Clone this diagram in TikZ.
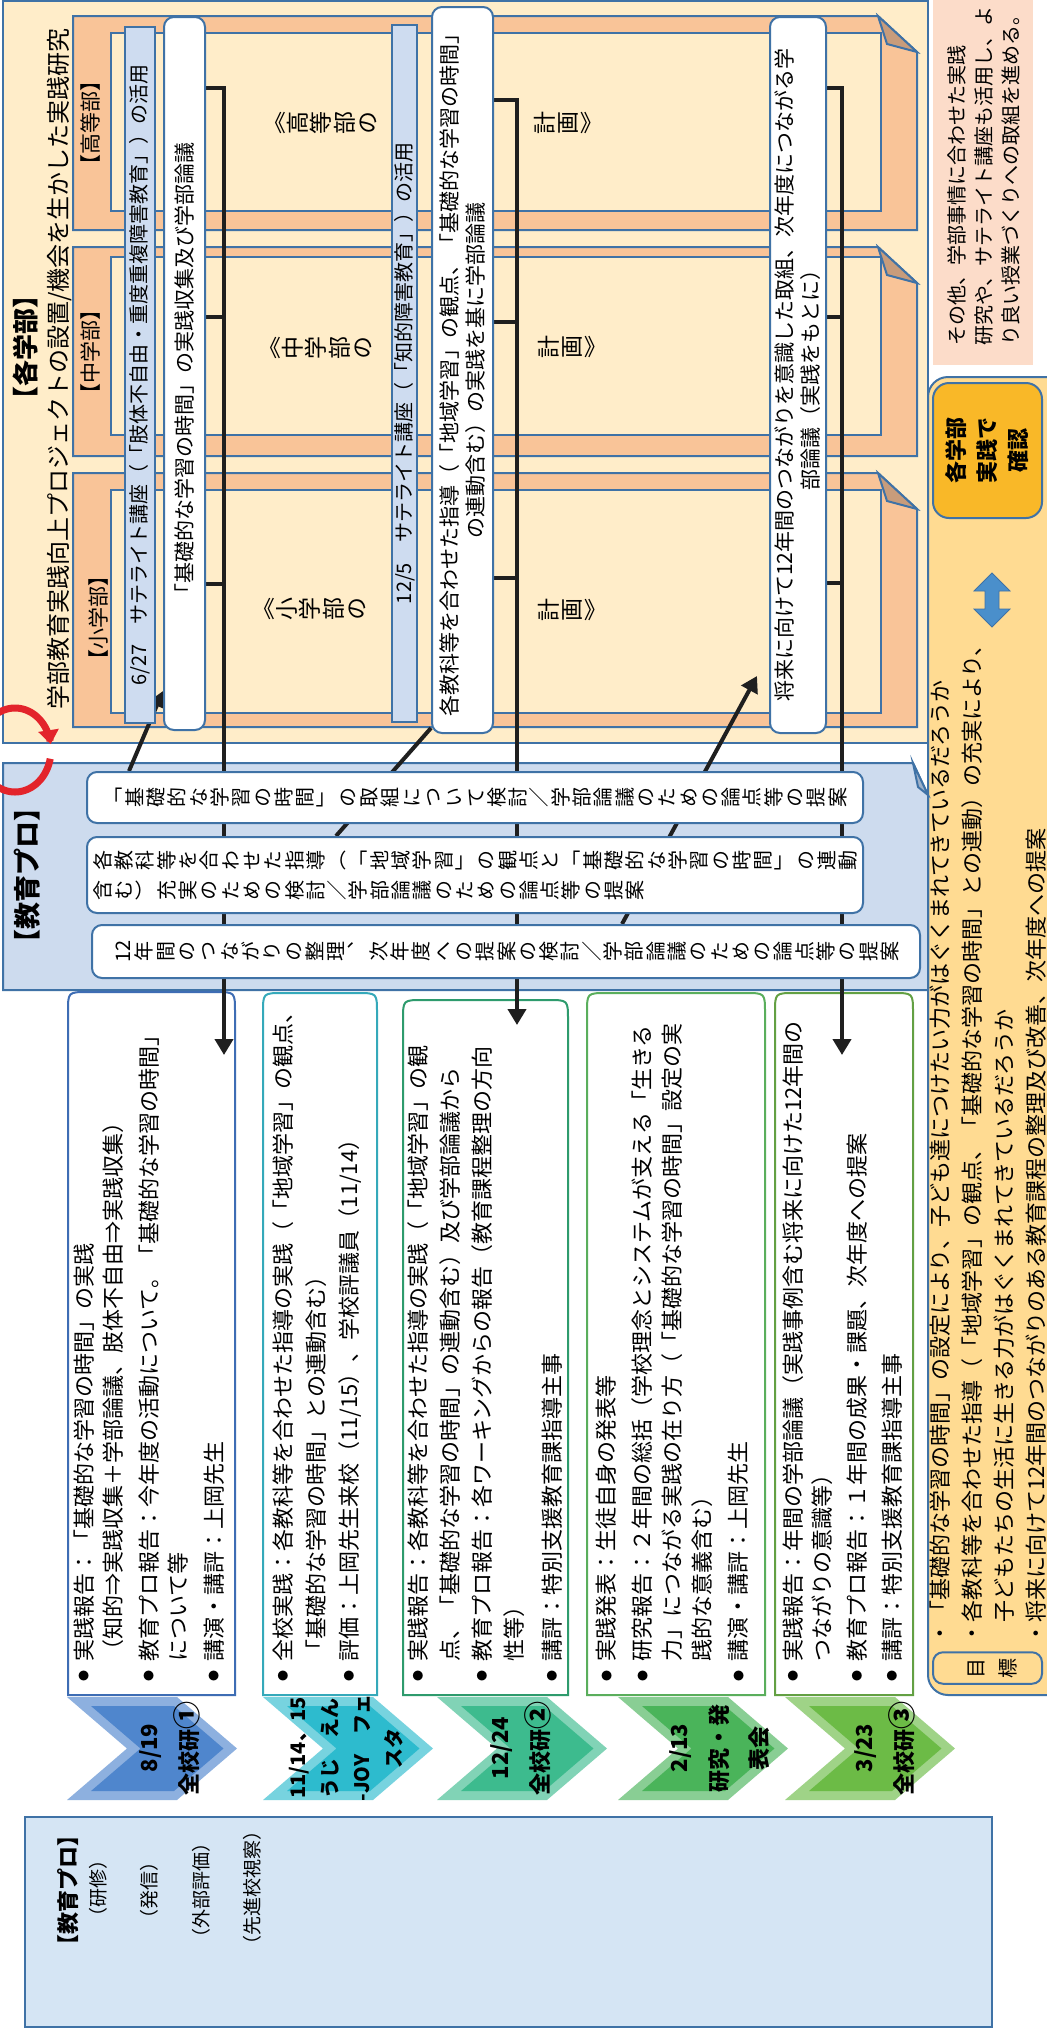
\documentclass[tikz,border=0pt]{standalone}
\usepackage{fontspec}
\setmainfont{Noto Sans CJK JP}
\newfontfamily\tatefont{Noto Sans CJK JP}[RawFeature=+vert]
\usetikzlibrary{arrows.meta}
\pgfdeclarelayer{back}
\pgfdeclarelayer{lines}
\pgfsetlayers{back,lines,main}

\definecolor{lineblue}{HTML}{3F72A6}
\definecolor{paleyellow}{HTML}{FFEDC9}
\definecolor{deptorange}{HTML}{F9C498}
\definecolor{foldbrown}{HTML}{C89C7B}
\definecolor{barblue}{HTML}{CEDCF0}
\definecolor{problue}{HTML}{CDDBEE}
\definecolor{foldgray}{HTML}{9FB1C8}
\definecolor{goalorange}{HTML}{FFDB92}
\definecolor{checkorange}{HTML}{F9B828}
\definecolor{notepink}{HTML}{FCDCC9}
\definecolor{arrowblue}{HTML}{4A8FCB}
\definecolor{bottomblue}{HTML}{D5E5F4}
\definecolor{cyclered}{HTML}{E3242B}
\definecolor{edgeA}{HTML}{3E6DB4}
\definecolor{edgeB}{HTML}{35A9BA}
\definecolor{edgeC}{HTML}{2E9B6D}
\definecolor{edgeD}{HTML}{5AAE5C}
\definecolor{edgeE}{HTML}{63A043}
\definecolor{chevA}{HTML}{4F86CD}
\definecolor{chevB}{HTML}{2DBBCE}
\definecolor{chevC}{HTML}{3DBB8E}
\definecolor{chevD}{HTML}{4AB45A}
\definecolor{chevE}{HTML}{6CBB46}

\newlength\tatepitch
\makeatletter
\newcommand\tatecol[1]{\vtop{\offinterlineskip\@tfor\tatechar:=#1\do{\hbox to\tatepitch{\hss\tatechar\hss\vrule width0pt height.88\tatepitch depth.12\tatepitch}}}}
\makeatother
\newcommand\bul{\makebox[1em][l]{\hspace{1pt}\raisebox{2.1pt}{\fontsize{5.5}{5.5}\selectfont ●}}}
\newcommand\hang{\hspace*{1em}}
\newcommand\circnum[1]{{\fontsize{14}{14}\selectfont #1}}

\begin{document}
\begin{tikzpicture}[x=0.5pt,y=-0.5pt,
  panel/.style={draw=lineblue,line width=1pt},
  txt/.style={rotate=90,inner sep=0pt},
  bar/.style={rotate=90,draw=lineblue,line width=1pt,fill=barblue,inner sep=0pt,font=\fontsize{10}{12}\selectfont},
  wbox/.style={rotate=90,draw=lineblue,line width=1pt,fill=white,rounded corners=5pt,inner sep=0pt,align=center,font=\fontsize{10.5}{13}\selectfont},
  tbox/.style={rotate=90,draw=lineblue,line width=1pt,fill=white,rounded corners=5pt,inner sep=0pt,font=\tatefont\fontsize{10}{10}\selectfont\setlength\tatepitch{10.65pt}},
  tate/.style={rotate=90,inner sep=0pt,font=\tatefont\fontsize{11.5}{11.5}\selectfont\setlength\tatepitch{11.7pt}},
  list/.style={rotate=90,anchor=north west,inner sep=0pt,align=left,font=\fontsize{11}{14.5}\selectfont},
  evt/.style={rotate=90,align=center,inner sep=0pt,font=\bfseries\fontsize{11}{20}\selectfont},
  conn/.style={line width=2pt,draw=black!88,-{Triangle[width=9pt,length=8pt]}},
  stub/.style={line width=2pt,draw=black!88}]
\useasboundingbox (0,0) rectangle (1046,2029);

\begin{pgfonlayer}{back}
\fill[white] (0,0) rectangle (1046,2029);
\draw[panel,fill=paleyellow] (3,1) rectangle (928,743);
\foreach \ya/\yb/\yc/\yd in {16/230/33/211,247/456/257/435,473/727/490/713}{
  \draw[panel,fill=deptorange] (73,\ya) -- (878,\ya) -- (917,\ya+36) -- (917,\yb) -- (73,\yb) -- cycle;
  \draw[panel,fill=paleyellow] (111,\yc) rectangle (881,\yd);
  \draw[panel,fill=foldbrown] (878,\ya) -- (887,\ya+28) -- (917,\ya+36) -- cycle;
}
\fill[notepink] (933,0) rectangle (1033,365);
\draw[panel,fill=goalorange,rounded corners=10pt] (928,377) rectangle (1070,1695);
\draw[panel,fill=problue] (3,763) -- (913,763) -- (928,795) -- (928,990) -- (3,990) -- cycle;
\draw[panel,fill=foldgray] (913,763) -- (918,787) -- (928,795) -- cycle;
\foreach \l/\r/\ya/\col in {68/235/992/edgeA,263/377/993/edgeB,403/568/1000/edgeC,587/765/993/edgeD,775/913/993/edgeE}
  \draw[draw=\col,line width=1pt,fill=white] (\l,1695) -- (\l,\ya+20) .. controls (\l,\ya) .. (\l+20,\ya)
    -- (\r-20,\ya) .. controls (\r,\ya) .. (\r,\ya+20) -- (\r,1695) -- cycle;
\foreach \x/\col in {67/chevA,263/chevB,437/chevC,618/chevD,785/chevE}{
  \fill[\col!65!white] (\x,1697) -- ++(110,0) -- ++(60,51.5) -- ++(-60,51.5) -- ++(-110,0) -- ++(60,-51.5) -- cycle;
  \fill[\col] (\x+24,1706) -- ++(83,0) -- ++(49.5,42.5) -- ++(-49.5,42.5) -- ++(-83,0) -- ++(49.5,-42.5) -- cycle;
}
\draw[panel,fill=bottomblue] (25,1817) rectangle (992,2027);
\end{pgfonlayer}

\node[txt,font=\bfseries\fontsize{13}{13}\selectfont] (kakubu) at (25,347) {【各学部】};
\node[txt,font=\fontsize{12}{12}\selectfont] (project) at (60,369) {学部教育実践向上プロジェクトの設置/機会を生かした実践研究};
\node[txt,font=\fontsize{10.5}{10.5}\selectfont] (koto) at (91,123) {【高等部】};
\node[txt,font=\fontsize{10.5}{10.5}\selectfont] (chu) at (91,352) {【中学部】};
\node[txt,font=\fontsize{10.5}{10.5}\selectfont] (sho) at (99,618) {【小学部】};

\node[bar,minimum width=348pt,minimum height=15pt] (bar1) at (140,375) {6/27　サテライト講座（「肢体不自由・重度重複障害教育」）の活用};
\node[bar,minimum width=348.5pt,minimum height=12.5pt] (bar2) at (404.5,373.5) {12/5　サテライト講座（「知的障害教育」）の活用};

\node[wbox,minimum width=356.5pt,minimum height=20.5pt] (A) at (184.5,373.5) {「基礎的な学習の時間」の実践収集及び学部論議};
\node[wbox,minimum width=363pt,minimum height=30.5pt] (B) at (462.5,370) {各教科等を合わせた指導（「地域学習」の観点、「基礎的な学習の時間」\\の連動含む）の実践を基に学部論議};
\node[wbox,minimum width=358pt,minimum height=28pt] (C) at (798,375) {将来に向けて12年間のつながりを意識した取組、次年度につながる学\\部論議（実践をもとに）};

\node[tate] (kotoA) at (321,123) {\tatecol{《高等部の}};
\node[tate] (kotoB) at (568,123) {\tatecol{計画》}};
\node[tate] (chuA) at (316,348) {\tatecol{《中学部の}};
\node[tate] (chuB) at (572,347) {\tatecol{計画》}};
\node[tate] (shoA) at (310,609) {\tatecol{《小学部の}};
\node[tate] (shoB) at (572,610) {\tatecol{計画》}};

\node[list,font=\fontsize{10}{13.5}\selectfont] (note) at (947,346) {その他、学部事情に合わせた実践\\研究や、サテライト講座も活用し、よ\\り良い授業づくりへの取組を進める。};
\node[rotate=90,draw=lineblue,line width=1pt,fill=checkorange,rounded corners=8pt,minimum width=67.5pt,minimum height=54.5pt,inner sep=0pt,align=center,font=\bfseries\fontsize{11}{15.5}\selectfont] (check) at (987.5,450.5) {各学部\\実践で\\確認};
\fill[arrowblue,draw=lineblue] (992,573) -- (1010,591) -- (999,591) -- (999,609) -- (1010,609) -- (992,627) -- (974,609) -- (985,609) -- (985,591) -- (974,591) -- cycle;

\node[txt,font=\bfseries\fontsize{13.5}{13.5}\selectfont] (pro) at (27,875) {【教育プロ】};
\node[tbox,minimum width=25.5pt,minimum height=388pt] (TB1) at (475,797.5) {\tatecol{「基礎的な学習の時間」の取組について検討／学部論議のための論点等の提案}};
\node[tbox,minimum width=38pt,minimum height=388pt] (TB2) at (475,875) {\tatecol{含む）充実のための検討／学部論議のための論点等の提案}\hskip4.35pt\tatecol{各教科等を合わせた指導（「地域学習」の観点と「基礎的な学習の時間」の連動}};
\node[tbox,minimum width=26.5pt,minimum height=414pt] (TB3) at (506,951.5) {\tatecol{{12}年間のつながりの整理、次年度への提案の検討／学部論議のための論点等の提案}};

\node[list] (t1) at (73,1684) {\bul 実践報告：「基礎的な学習の時間」の実践\\
\hang（知的⇒実践収集＋学部論議、肢体不自由⇒実践収集）\\[3.5pt]
\bul 教育プロ報告：今年度の活動について。「基礎的な学習の時間」\\
\hang について等\\[3.5pt]
\bul 講演・講評：上岡先生};
\node[list,font=\fontsize{11}{16.5}\selectfont] (t2) at (272,1684) {\bul 全校実践：各教科等を合わせた指導の実践（「地域学習」の観点、\\
\hang「基礎的な学習の時間」との連動含む）\\
\bul 評価：上岡先生来校（11/15）、学校評議員（11/14）};
\node[list,font=\fontsize{11}{16}\selectfont] (t3) at (407,1684) {\bul 実践報告：各教科等を合わせた指導の実践（「地域学習」の観\\
\hang 点、「基礎的な学習の時間」の連動含む）及び学部論議から\\
\bul 教育プロ報告：各ワーキングからの報告（教育課程整理の方向\\
\hang 性等）\\[3pt]
\bul 講評：特別支援教育課指導主事};
\node[list,font=\fontsize{11}{15}\selectfont] (t4) at (596,1684) {\bul 実践発表：生徒自身の発表等\\[3pt]
\bul 研究報告：２年間の総括（学校理念とシステムが支える「生きる\\
\hang 力」につながる実践の在り方（「基礎的な学習の時間」設定の実\\
\hang 践的な意義含む）\\[3pt]
\bul 講演・講評：上岡先生};
\node[list] (t5) at (782,1684) {\bul 実践報告：年間の学部論議（実践事例含む将来に向けた12年間の\\
\hang つながりの意識等）\\[3pt]
\bul 教育プロ報告：１年間の成果・課題、次年度への提案\\[3pt]
\bul 講評：特別支援教育課指導主事};

\node[evt] (ev1) at (170,1748) {8/19\\全校研\circnum{①}};
\node[evt,font=\bfseries\fontsize{10}{16}\selectfont] (ev2) at (346,1748) {11/14、15\\うじ　えん\\-JOY　フェ\\スタ};
\node[evt] (ev3) at (521,1748) {12/24\\全校研\circnum{②}};
\node[evt] (ev4) at (720,1748) {2/13\\研究・発\\表会};
\node[evt] (ev5) at (885,1748) {3/23\\全校研\circnum{③}};

\node[list,font=\fontsize{11}{16}\selectfont] (goal) at (929,1645) {・「基礎的な学習の時間」の設定により、子ども達につけたい力がはぐくまれてきているだろうか\\
・各教科等を合わせた指導（「地域学習」の観点、「基礎的な学習の時間」との連動）の充実により、\\
　子どもたちの生活に生きる力がはぐくまれてきているだろうか\\
・将来に向けて12年間のつながりのある教育課程の整理及び改善、次年度への提案};
\node[rotate=90,draw=lineblue,line width=1pt,fill=goalorange,rounded corners=5pt,minimum width=15pt,minimum height=54.5pt,inner sep=0pt,font=\tatefont\fontsize{10}{10}\selectfont\setlength\tatepitch{15.75pt}] (mokuhyo) at (987.5,1668) {\tatecol{目標}};

\node[txt,font=\bfseries\fontsize{11}{11}\selectfont] (pro2) at (68,1890) {【教育プロ】};
\node[txt,font=\fontsize{9.5}{9.5}\selectfont] (kenshu) at (98,1888) {（研修）};
\node[txt,font=\fontsize{9.5}{9.5}\selectfont] (hasshin) at (149,1890) {（発信）};
\node[txt,font=\fontsize{9.5}{9.5}\selectfont] (gaibu) at (201,1890) {（外部評価）};
\node[txt,font=\fontsize{9.5}{9.5}\selectfont] (senshin) at (252,1888) {（先進校視察）};

\begin{pgfonlayer}{lines}
\coordinate (in1) at (224,1055);
\coordinate (in2) at (517,1025);
\coordinate (in3) at (842,1055);
\draw[conn] (A.south |- 0,88) -| (in1);
\draw[stub] (A.south |- 0,317) -- (in1 |- 0,317);
\draw[stub] (A.south |- 0,584) -- (in1 |- 0,584);
\draw[conn] (B.south |- 0,100) -| (in2);
\draw[stub] (B.south |- 0,322) -- (in2 |- 0,322);
\draw[stub] (B.south |- 0,578) -- (in2 |- 0,578);
\draw[conn] (C.south |- 0,88) -| (in3);
\draw[stub] (C.south |- 0,317) -- (in3 |- 0,317);
\draw[stub] (C.south |- 0,583) -- (in3 |- 0,583);
\draw[conn] ([xshift=21.5pt]TB1.north east) -- ([yshift=20pt]A.north west);
\draw[stub] ([xshift=125pt]TB2.north east) -- ([yshift=3pt]B.north west);
\draw[conn] ([xshift=265.5pt]TB3.north east) -- ([xshift=-6pt,yshift=29pt]C.north west);
\end{pgfonlayer}

\draw[cyclered,line width=3.5pt,-{Triangle[width=10pt,length=7pt]}] plot[domain=-135:-8,samples=30] ({15+36*cos(\x)},{750+42*sin(\x)});
\draw[cyclered,line width=3.5pt] plot[domain=12:125,samples=30] ({15+36*cos(\x)},{750+42*sin(\x)});
\end{tikzpicture}
\end{document}
